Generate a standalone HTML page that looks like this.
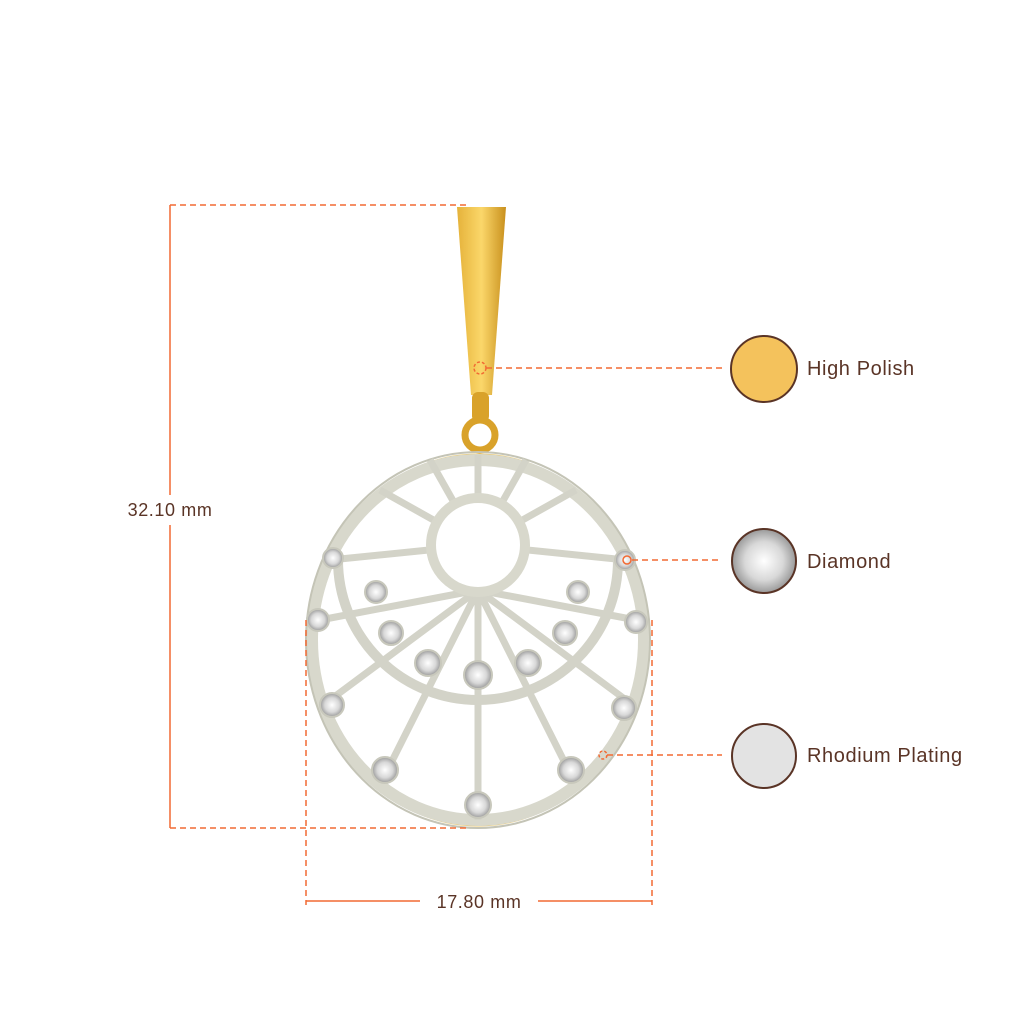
<!DOCTYPE html>
<html><head><style>
body{margin:0;background:#fff;}
svg{display:block}
text{font-family:"Liberation Sans",sans-serif;fill:#5a3426;letter-spacing:0.6px}
</style></head><body>
<svg width="1024" height="1024" viewBox="0 0 1024 1024">
<defs>
<linearGradient id="g" x1="0" x2="1"><stop offset="0" stop-color="#e5b23a"/><stop offset=".5" stop-color="#fbd76a"/><stop offset="1" stop-color="#c9901d"/></linearGradient>
<radialGradient id="d"><stop offset="0" stop-color="#fff"/><stop offset=".6" stop-color="#d8d8d8"/><stop offset="1" stop-color="#999"/></radialGradient>
</defs>
<path d="M457,207 L506,207 L492,395 L471,395 Z" fill="url(#g)"/>
<rect x="472" y="392" width="17" height="30" rx="6" fill="#d9a22a"/>
<circle cx="480" cy="435" r="15" fill="none" stroke="#d9a22a" stroke-width="7"/>
<ellipse cx="478" cy="640" rx="164" ry="184" fill="none" stroke="#f0c860" stroke-width="5"/>
<ellipse cx="478" cy="640" rx="166" ry="180" fill="none" stroke="#d8d8cc" stroke-width="12"/>
<ellipse cx="478" cy="640" rx="172" ry="188" fill="none" stroke="#c4c4b6" stroke-width="2"/>
<g stroke="#d3d3c8" stroke-width="7" fill="none">
<path d="M338,560 A140,140 0 0 0 618,560" stroke-width="10"/>
<line x1="478" y1="590" x2="478" y2="820"/><line x1="478" y1="590" x2="385" y2="775"/><line x1="478" y1="590" x2="571" y2="775"/>
<line x1="478" y1="590" x2="330" y2="700"/><line x1="478" y1="590" x2="626" y2="700"/>
<line x1="478" y1="590" x2="320" y2="620"/><line x1="478" y1="590" x2="636" y2="620"/>
<line x1="478" y1="545" x2="330" y2="560"/><line x1="478" y1="545" x2="626" y2="560"/>
<line x1="478" y1="545" x2="380" y2="490"/><line x1="478" y1="545" x2="576" y2="490"/>
<line x1="478" y1="545" x2="430" y2="460"/><line x1="478" y1="545" x2="526" y2="460"/>
<line x1="478" y1="545" x2="478" y2="455"/>
</g>
<circle cx="478" cy="545" r="47" fill="#fff" stroke="#d8d8cc" stroke-width="10"/>
<g fill="url(#d)" stroke="#c8c8bc" stroke-width="2">
<circle cx="478" cy="805" r="13"/><circle cx="385" cy="770" r="13"/><circle cx="571" cy="770" r="13"/>
<circle cx="332" cy="705" r="12"/><circle cx="624" cy="708" r="12"/><circle cx="318" cy="620" r="11"/><circle cx="636" cy="622" r="11"/>
<circle cx="333" cy="558" r="10"/><circle cx="625" cy="560" r="10"/>
<circle cx="478" cy="675" r="14"/><circle cx="428" cy="663" r="13"/><circle cx="528" cy="663" r="13"/>
<circle cx="391" cy="633" r="12"/><circle cx="565" cy="633" r="12"/><circle cx="376" cy="592" r="11"/><circle cx="578" cy="592" r="11"/>
</g>
<g stroke="#f26a33" stroke-width="1.5" fill="none">
<line x1="170" y1="205" x2="170" y2="828"/>
<line x1="170" y1="205" x2="470" y2="205" stroke-dasharray="6,4"/>
<line x1="170" y1="828" x2="470" y2="828" stroke-dasharray="6,4"/>
<line x1="306" y1="620" x2="306" y2="905" stroke-dasharray="6,4"/>
<line x1="652" y1="620" x2="652" y2="905" stroke-dasharray="6,4"/>
<line x1="306" y1="901" x2="652" y2="901"/>
<line x1="486" y1="368" x2="722" y2="368" stroke-dasharray="6,4"/>
<line x1="632" y1="560" x2="722" y2="560" stroke-dasharray="6,4"/>
<line x1="607" y1="755" x2="722" y2="755" stroke-dasharray="6,4"/>
<circle cx="480" cy="368" r="6" stroke-dasharray="3,2"/>
<circle cx="627" cy="560" r="4"/>
<circle cx="603" cy="755" r="4" stroke-dasharray="3,2"/>
</g>
<rect x="110" y="495" width="120" height="30" fill="#fff"/>
<rect x="420" y="888" width="118" height="28" fill="#fff"/>
<text x="170" y="516" font-size="18" text-anchor="middle">32.10 mm</text>
<text x="479" y="908" font-size="18" text-anchor="middle">17.80 mm</text>
<circle cx="764" cy="369" r="33" fill="#f4c25c" stroke="#5a3426" stroke-width="2"/>
<circle cx="764" cy="561" r="32" fill="url(#d)" stroke="#5a3426" stroke-width="2"/>
<circle cx="764" cy="756" r="32" fill="#e3e3e3" stroke="#5a3426" stroke-width="2"/>
<text x="807" y="375" font-size="20">High Polish</text>
<text x="807" y="568" font-size="20">Diamond</text>
<text x="807" y="762" font-size="20">Rhodium Plating</text>
</svg>
</body></html>
